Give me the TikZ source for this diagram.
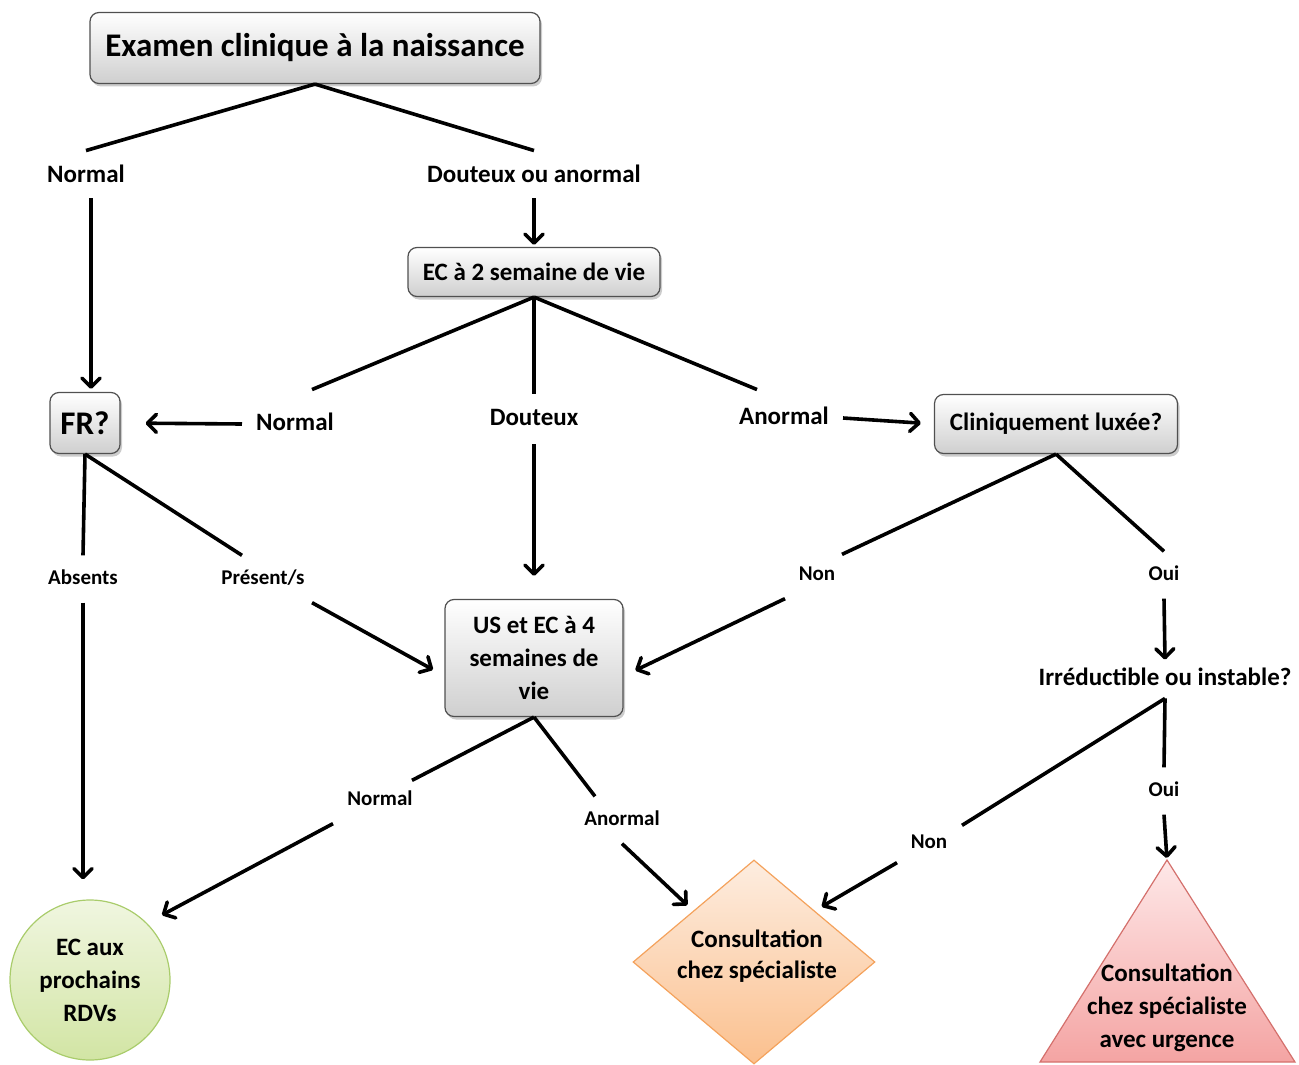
\documentclass[tikz,border=0pt]{standalone}
\usepackage{fontspec}
\setmainfont{Carlito}
\usetikzlibrary{arrows.meta,shapes.geometric,shadows,calc}
\definecolor{boxbot}{HTML}{CFCFCF}
\definecolor{boxline}{HTML}{505050}
\definecolor{grtop}{HTML}{F0F6E0}
\definecolor{grbot}{HTML}{D2E5A4}
\definecolor{grline}{HTML}{A9CC6B}
\definecolor{ortop}{HTML}{FDEDE0}
\definecolor{orbot}{HTML}{FBC08E}
\definecolor{orline}{HTML}{F4A25C}
\definecolor{rdtop}{HTML}{FEE8E8}
\definecolor{rdbot}{HTML}{F4A4A3}
\definecolor{rdline}{HTML}{D4706C}
\tikzset{
  box/.style={draw=boxline, line width=1.2pt, rounded corners=9pt, top color=white, bottom color=boxbot,
    drop shadow={shadow xshift=2pt, shadow yshift=-3pt, opacity=0.4}, align=center,
    font=\fontsize{25}{33}\selectfont\bfseries},
  lbl/.style={inner sep=14pt, text height=17.5pt, text depth=5pt, font=\fontsize{25}{30}\selectfont\bfseries},
  slbl/.style={inner sep=14pt, text height=14.7pt, text depth=4.2pt, font=\fontsize{21}{25}\selectfont\bfseries},
  ln/.style={line width=3.6pt},
  arr/.style={line width=3.6pt, -{Straight Barb[length=9pt, width=18pt, line width=3.6pt, round]}}
}
\begin{document}
\begin{tikzpicture}[x=1pt, y=-1pt]
  \useasboundingbox (0,0) rectangle (1299,1065);
  \node[box, minimum width=450, minimum height=71, font=\fontsize{33}{40}\selectfont\bfseries] (exam) at (315,48) {Examen clinique à la naissance};
  \node[box, minimum width=252, minimum height=49] (ec2) at (534,272) {EC à 2 semaine de vie};
  \node[box, minimum width=70, minimum height=61, inner sep=0pt, font=\fontsize{33}{40}\selectfont\bfseries] (fr) at (85,423) {FR?};
  \node[box, minimum width=243, minimum height=59] (clin) at (1056,424) {Cliniquement luxée?};
  \node[box, minimum width=178, minimum height=117] (us) at (534,658) {US et EC à 4\\semaines de\\vie};
  \node[circle, draw=grline, line width=1.2pt, top color=grtop, bottom color=grbot, minimum size=160, inner sep=0pt,
    align=center, font=\fontsize{25}{33}\selectfont\bfseries] (rdv) at (90,980) {EC aux\\prochains\\RDVs};
  \node[diamond, draw=orline, line width=1.2pt, top color=ortop, bottom color=orbot, minimum width=242, minimum height=204,
    inner sep=0pt] (cons) at (754,962) {};
  \node[align=center, font=\fontsize{25}{31}\selectfont\bfseries] (constxt) at (757,956) {Consultation\\chez spécialiste};
  \shade[draw=rdline, line width=1.2pt, top color=rdtop, bottom color=rdbot] (1167,860) coordinate (tri) -- (1295,1062) -- (1040,1062) -- cycle;
  \node[align=center, font=\fontsize{25}{33}\selectfont\bfseries] (urg) at (1167,1008) {Consultation\\chez spécialiste\\avec urgence};

  \node[lbl] (nor1) at (86,176) {Normal};
  \node[lbl] (dou1) at (534,176) {Douteux ou anormal};
  \node[lbl] (nor2) at (295,424) {Normal};
  \node[lbl] (dou2) at (534,419) {Douteux};
  \node[lbl] (ano2) at (784,418) {Anormal};
  \node[slbl] (abs) at (83,579) {Absents};
  \node[slbl] (pres) at (263,579) {Présent/s};
  \node[slbl] (non1) at (817,575) {Non};
  \node[slbl] (oui1) at (1164,575) {Oui};
  \node[lbl, inner sep=8pt] (irr) at (1165,679) {Irréductible ou instable?};
  \node[slbl] (non2) at (929,843) {Non};
  \node[slbl] (oui2) at (1164,791) {Oui};
  \node[slbl] (nor3) at (380,800) {Normal};
  \node[slbl] (ano3) at (622,820) {Anormal};

  \draw[ln] (exam.south) -- (nor1.north);
  \draw[ln] (exam.south) -- (dou1.north);
  \draw[arr, shorten >=3pt] ($(nor1.south)+(5,-3)$) -- ($(fr.north)+(6,0)$);
  \draw[arr, shorten >=2pt] ($(dou1.south)+(0,-3)$) -- (ec2.north);
  \draw[ln] (ec2.south) -- ($(nor2.north)+(17,-9)$);
  \draw[ln] (ec2.south) -- (dou2.north);
  \draw[ln] (ec2.south) -- ($(ano2.north)+(-27,-3)$);
  \draw[arr, shorten >=25pt] (nor2.west) -- (fr.east);
  \draw[arr, shorten >=23pt] (dou2.south) -- (us.north);
  \draw[arr, shorten >=13pt] (ano2.east) -- (clin.west);
  \draw[ln] (fr.south) -- (abs.north);
  \draw[ln] (fr.south) -- ($(pres.north)+(-21,0)$);
  \draw[arr, shorten >=20pt] (abs.south) -- (abs.south |- rdv.north);
  \draw[arr, shorten >=13pt] ($(pres.south)+(49,0)$) -- ($(us.west)+(0,18)$);
  \draw[ln] (clin.south) -- ($(non1.north)+(25,3)$);
  \draw[ln] (clin.south) -- (oui1.north);
  \draw[arr, shorten >=13pt] ($(non1.south)+(-32,0)$) -- ($(us.east)+(0,18)$);
  \draw[arr] (oui1.south) -- (irr.north);
  \draw[ln] (irr.south) -- ($(non2.north)+(33,6)$);
  \draw[ln] (irr.south) -- (oui2.north);
  \draw[arr, shorten >=8pt] ($(non2.south)+(-32,-4)$) -- (cons.north east);
  \draw[arr, shorten >=2pt] (oui2.south) -- (tri);
  \draw[ln] (us.south) -- ($(nor3.north)+(32,4)$);
  \draw[ln] (us.south) -- ($(ano3.north)+(-27,0)$);
  \draw[arr, shorten >=17pt] ($(nor3.south)+(-47,0)$) -- (rdv.north east);
  \draw[arr, shorten >=8pt] (ano3.south) -- (cons.north west);
\end{tikzpicture}
\end{document}
